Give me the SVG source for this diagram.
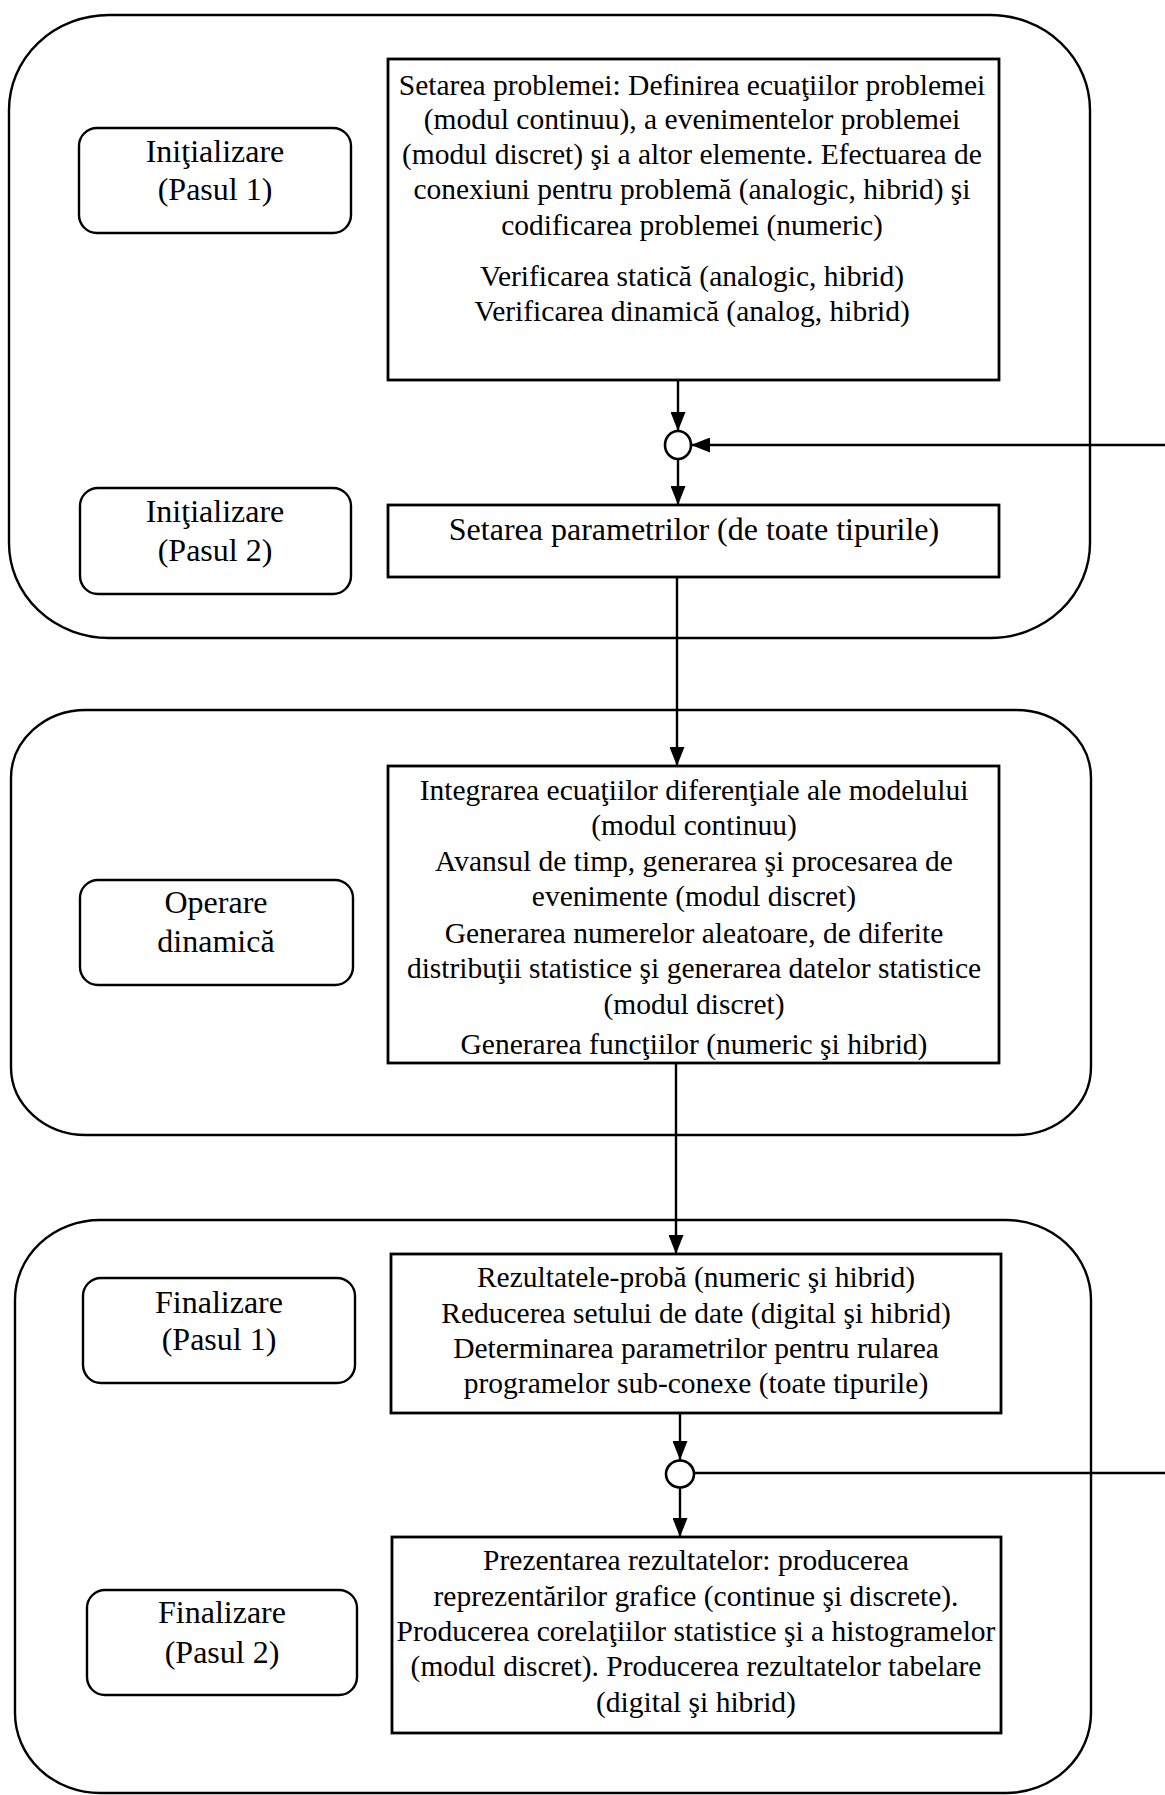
<svg xmlns="http://www.w3.org/2000/svg" width="1165" height="1795" viewBox="0 0 1165 1795">
  <style>
    .stage { fill: none; stroke: #000; stroke-width: 2.4; }
    .label { fill: #fff; stroke: #000; stroke-width: 2.4; }
    .box { fill: #fff; stroke: #000; stroke-width: 2.8; }
    .junction { fill: #fff; stroke: #000; stroke-width: 2.6; }
    .wire { fill: none; stroke: #000; stroke-width: 2.4; }
    text { font-family: "Liberation Serif", "Times New Roman", serif; fill: #000; text-anchor: middle; }
    .lt { font-size: 32px; }
    .bt { font-size: 29.5px; }
    .bt2 { font-size: 32px; }
  </style>
  <defs>
    <marker id="arrow" markerUnits="userSpaceOnUse" markerWidth="19" markerHeight="15" viewBox="0 0 19 15" refX="19" refY="7.5" orient="auto">
      <path d="M0,0 L19,7.5 L0,15 z" fill="#000"/>
    </marker>
  </defs>

  <!-- stage frames -->
  <g id="stage-init">
    <rect class="stage" x="9" y="15" width="1081" height="623" rx="100" ry="95"/>
  </g>
  <g id="stage-run">
    <rect class="stage" x="11" y="710" width="1080" height="425" rx="75" ry="68"/>
  </g>
  <g id="stage-final">
    <rect class="stage" x="15" y="1220" width="1076" height="573" rx="85" ry="80"/>
  </g>

  <!-- connectors -->
  <g id="connectors">
    <path class="wire" d="M678,380 V431" marker-end="url(#arrow)"/>
    <path class="wire" d="M678,459 V505" marker-end="url(#arrow)"/>
    <path class="wire" d="M1165,445 H691" marker-end="url(#arrow)"/>
    <path class="wire" d="M677,577 V766" marker-end="url(#arrow)"/>
    <path class="wire" d="M676,1063 V1254" marker-end="url(#arrow)"/>
    <path class="wire" d="M680,1413 V1460" marker-end="url(#arrow)"/>
    <path class="wire" d="M680,1487 V1537" marker-end="url(#arrow)"/>
    <path class="wire" d="M694,1473 H1165"/>
  </g>

  <!-- junctions -->
  <g id="junction-1">
    <ellipse class="junction" cx="678" cy="445" rx="13" ry="14"/>
  </g>
  <g id="junction-2">
    <ellipse class="junction" cx="680" cy="1474" rx="14" ry="13.5"/>
  </g>

  <!-- phase labels -->
  <g id="label-init-1">
    <rect class="label" x="79" y="128" width="272" height="105" rx="18"/>
    <text class="lt" x="215" y="162">Iniţializare</text>
    <text class="lt" x="215" y="200">(Pasul 1)</text>
  </g>
  <g id="label-init-2">
    <rect class="label" x="80" y="488" width="271" height="106" rx="18"/>
    <text class="lt" x="215" y="522">Iniţializare</text>
    <text class="lt" x="215" y="561">(Pasul 2)</text>
  </g>
  <g id="label-run">
    <rect class="label" x="80" y="880" width="273" height="105" rx="18"/>
    <text class="lt" x="216" y="913">Operare</text>
    <text class="lt" x="216" y="952">dinamică</text>
  </g>
  <g id="label-final-1">
    <rect class="label" x="83" y="1278" width="272" height="105" rx="18"/>
    <text class="lt" x="219" y="1313">Finalizare</text>
    <text class="lt" x="219" y="1350">(Pasul 1)</text>
  </g>
  <g id="label-final-2">
    <rect class="label" x="87" y="1590" width="270" height="105" rx="18"/>
    <text class="lt" x="222" y="1623">Finalizare</text>
    <text class="lt" x="222" y="1663">(Pasul 2)</text>
  </g>

  <!-- process boxes -->
  <g id="box-setup">
    <rect class="box" x="388" y="59" width="611" height="321"/>
    <text class="bt" x="692" y="95">Setarea problemei: Definirea ecuaţiilor problemei</text>
    <text class="bt" x="692" y="129">(modul continuu), a evenimentelor problemei</text>
    <text class="bt" x="692" y="164">(modul discret) şi a altor elemente. Efectuarea de</text>
    <text class="bt" x="692" y="199">conexiuni pentru problemă (analogic, hibrid) şi</text>
    <text class="bt" x="692" y="235">codificarea problemei (numeric)</text>
    <text class="bt" x="692" y="286">Verificarea statică (analogic, hibrid)</text>
    <text class="bt" x="692" y="321">Verificarea dinamică (analog, hibrid)</text>
  </g>
  <g id="box-params">
    <rect class="box" x="388" y="505" width="611" height="72"/>
    <text class="bt2" x="694" y="540">Setarea parametrilor (de toate tipurile)</text>
  </g>
  <g id="box-run">
    <rect class="box" x="388" y="766" width="611" height="297"/>
    <text class="bt" x="694" y="800">Integrarea ecuaţiilor diferenţiale ale modelului</text>
    <text class="bt" x="694" y="835">(modul continuu)</text>
    <text class="bt" x="694" y="871">Avansul de timp, generarea şi procesarea de</text>
    <text class="bt" x="694" y="906">evenimente (modul discret)</text>
    <text class="bt" x="694" y="943">Generarea numerelor aleatoare, de diferite</text>
    <text class="bt" x="694" y="978">distribuţii statistice şi generarea datelor statistice</text>
    <text class="bt" x="694" y="1014">(modul discret)</text>
    <text class="bt" x="694" y="1054">Generarea funcţiilor (numeric şi hibrid)</text>
  </g>
  <g id="box-results">
    <rect class="box" x="391" y="1254" width="610" height="159"/>
    <text class="bt" x="696" y="1287">Rezultatele-probă (numeric şi hibrid)</text>
    <text class="bt" x="696" y="1323">Reducerea setului de date (digital şi hibrid)</text>
    <text class="bt" x="696" y="1358">Determinarea parametrilor pentru rularea</text>
    <text class="bt" x="696" y="1393">programelor sub-conexe (toate tipurile)</text>
  </g>
  <g id="box-present">
    <rect class="box" x="392" y="1537" width="609" height="196"/>
    <text class="bt" x="696" y="1570">Prezentarea rezultatelor: producerea</text>
    <text class="bt" x="696" y="1606">reprezentărilor grafice (continue şi discrete).</text>
    <text class="bt" x="696" y="1641">Producerea corelaţiilor statistice şi a histogramelor</text>
    <text class="bt" x="696" y="1676">(modul discret). Producerea rezultatelor tabelare</text>
    <text class="bt" x="696" y="1712">(digital şi hibrid)</text>
  </g>
</svg>
